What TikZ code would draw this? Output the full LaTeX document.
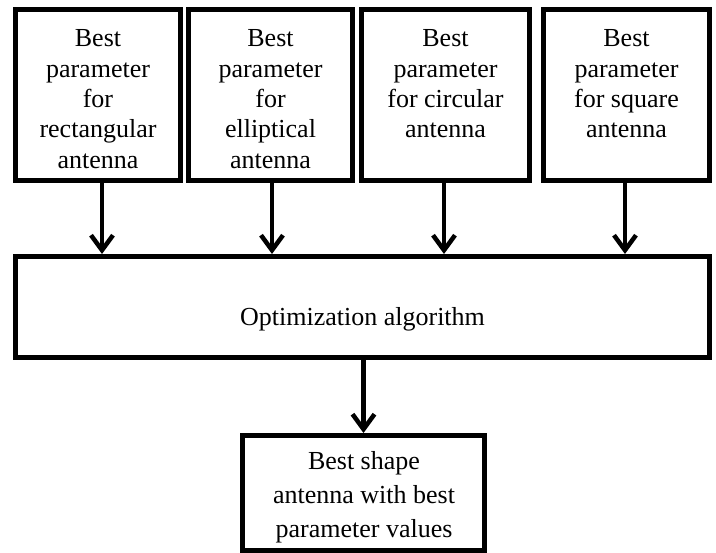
\documentclass[tikz,border=0pt]{standalone}
\usepackage{fontspec}
\setmainfont{Liberation Serif}
\usetikzlibrary{arrows.meta}
\begin{document}
\begin{tikzpicture}[x=1pt,y=-1pt,
  boxnode/.style={draw=black,line width=5pt,rectangle,inner sep=0pt,fill=white},
  topbox/.style={boxnode,minimum height=171.5pt},
  labtop/.style={align=center,inner sep=0pt,anchor=north,font=\fontsize{26}{30.3}\selectfont},
  labbot/.style={align=center,inner sep=0pt,anchor=north,font=\fontsize{26}{34}\selectfont},
  arr/.style={line width=4.5pt,-{Straight Barb[length=15pt,width=22pt]}}]
\useasboundingbox (0,0) rectangle (716,553);
% top boxes
\node[topbox,minimum width=165pt] (b1) at (98,95.25) {};
\node[topbox,minimum width=164pt] (b2) at (270.5,95.25) {};
\node[topbox,minimum width=168pt] (b3) at (445.5,95.25) {};
\node[topbox,minimum width=166pt] (b4) at (626.5,95.25) {};
\node[labtop] (t1) at (98,29.6) {Best\\parameter\\for\\rectangular\\antenna};
\node[labtop] (t2) at (270.5,29.6) {Best\\parameter\\for\\elliptical\\antenna};
\node[labtop] (t3) at (445.5,29.6) {Best\\parameter\\for circular\\antenna};
\node[labtop] (t4) at (626.5,29.6) {Best\\parameter\\for square\\antenna};
% optimization box
\node[boxnode,minimum width=694pt,minimum height=101.5pt] (opt) at (362.5,307.25) {};
\node[anchor=base,inner sep=0pt,font=\fontsize{26}{30}\selectfont] (optl) at (362.5,326) {Optimization algorithm};
% bottom box
\node[boxnode,minimum width=242pt,minimum height=115.5pt] (bot) at (363.5,493.25) {};
\node[labbot] (botl) at (364,451.2) {Best shape\\antenna with best\\parameter values};
% arrows
\draw[arr] ([xshift=4pt]b1.south) -- ([xshift=4pt]b1.south |- opt.north);
\draw[arr] ([xshift=1.5pt]b2.south) -- ([xshift=1.5pt]b2.south |- opt.north);
\draw[arr] ([xshift=-1.5pt]b3.south) -- ([xshift=-1.5pt]b3.south |- opt.north);
\draw[arr] ([xshift=-1.5pt]b4.south) -- ([xshift=-1.5pt]b4.south |- opt.north);
\draw[arr] (bot.north |- opt.south) -- (bot.north);
\end{tikzpicture}
\end{document}
